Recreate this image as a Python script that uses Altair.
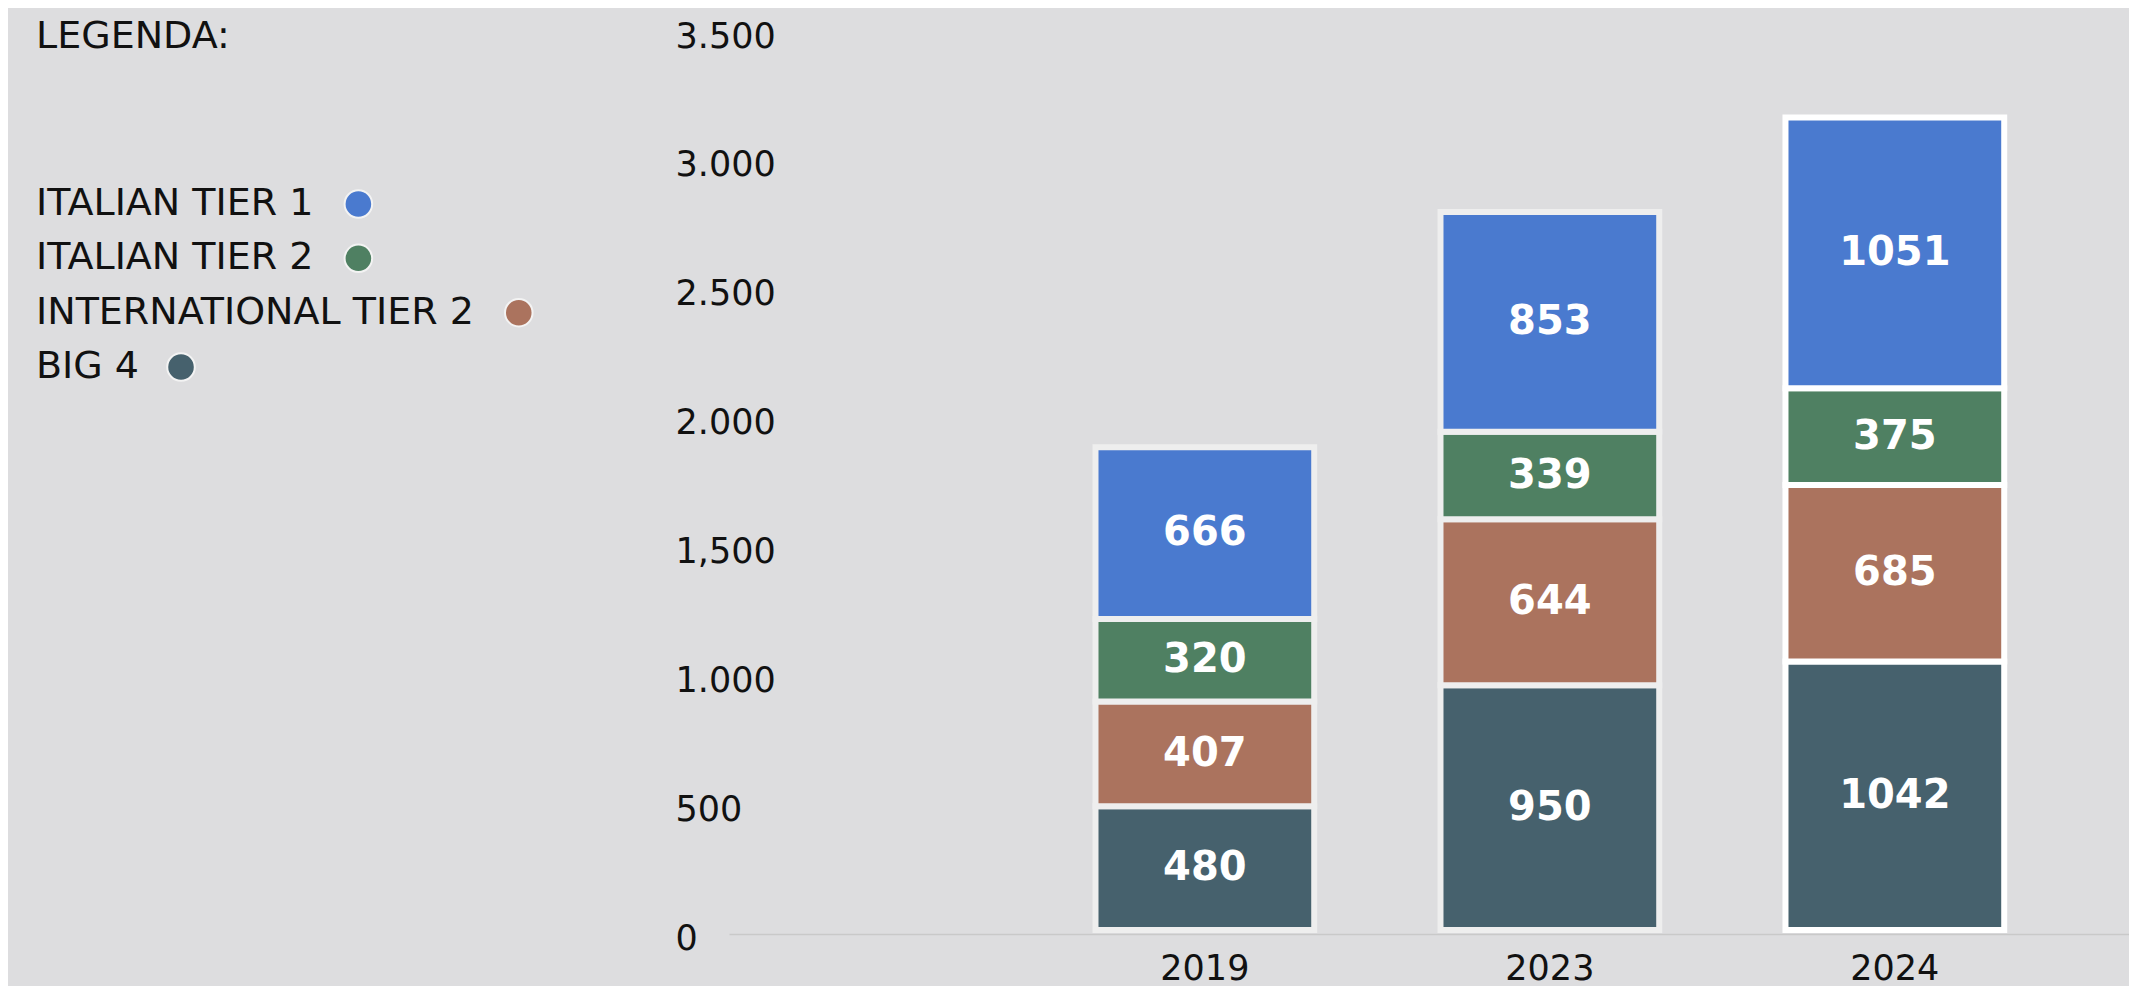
import altair as alt
import pandas as pd

# ---- data ----
years = ["2019", "2023", "2024"]
series = ["BIG 4", "INTERNATIONAL TIER 2", "ITALIAN TIER 2", "ITALIAN TIER 1"]  # bottom -> top
big4 = [480, 950, 1042]
international_tier2 = [407, 644, 685]
italian_tier2 = [320, 339, 375]
italian_tier1 = [666, 853, 1051]
legend_order = ["ITALIAN TIER 1", "ITALIAN TIER 2", "INTERNATIONAL TIER 2", "BIG 4"]
series_colors = ["#46616d", "#ab735e", "#4f8062", "#4a7acf"]
y_ticks = [0, 500, 1000, 1500, 2000, 2500, 3000, 3500]
legend_title = "LEGENDA:"

FONT = "DejaVu Sans"
BG = "#dddddf"
INK = "#111111"

values_by_series = [big4, international_tier2, italian_tier2, italian_tier1]
rows = []
for k, (name, vals) in enumerate(zip(series, values_by_series)):
    for yr, v in zip(years, vals):
        rows.append({"year": yr, "series": name, "value": v, "k": k})
df = pd.DataFrame(rows)

color_scale = alt.Scale(domain=series, range=series_colors)

# ---- bars panel ----
x_enc = alt.X(
    "year:N",
    sort=years,
    scale=alt.Scale(domain=years, paddingInner=0.366, paddingOuter=0.712, align=0.746),
    axis=alt.Axis(
        title=None, labelAngle=0, ticks=False, domain=True, domainColor="#c9c9c9",
        domainWidth=1.5, grid=False, labelPadding=17, labelFontSize=35, labelFont=FONT,
        labelColor=INK, labelFontWeight="normal",
    ),
)
y_scale = alt.Scale(domain=[0, 3500], range=[922, 20], nice=False, zero=True)
y_axis = alt.Axis(
    title=None, values=y_ticks, ticks=False, domain=False, grid=False,
    labelAlign="left", labelBaseline="middle", labelPadding=54, labelOffset=8,
    labelFontSize=35, labelFont=FONT, labelColor=INK,
    labelExpr="datum.value == 1500 ? '1,500' : replace(format(datum.value, ','), ',', '.')",
)

base = alt.Chart(df).transform_stack(
    stack="value", groupby=["year"], as_=["v0", "v1"], sort=[alt.SortField("k", order="ascending")]
).transform_calculate(mid="(datum.v0 + datum.v1) / 2")

bars = base.mark_bar(strokeWidth=6, opacity=1).encode(
    x=x_enc,
    y=alt.Y("v0:Q", scale=y_scale, axis=y_axis),
    y2="v1:Q",
    color=alt.Color("series:N", scale=color_scale, legend=None),
    stroke=alt.condition("datum.year == '2024'", alt.value("#ffffff"), alt.value("#eeeeee")),
    order=alt.Order("k:Q"),
)

bar_labels = base.mark_text(
    font=FONT, fontSize=40, fontWeight="bold", color="#ffffff", align="center", baseline="middle"
).encode(
    x=x_enc,
    y=alt.Y("mid:Q", scale=y_scale, axis=y_axis),
    text=alt.Text("value:Q", format="d"),
)

bars_panel = alt.layer(bars, bar_labels).properties(width=1400, height=926)

# ---- legend panel (label followed by a dot) ----
LEG_SIZE = 38
dejavu_adv = {" ": 651, "1": 1303, "2": 1303, "4": 1303, "A": 1401, "B": 1405, "E": 1294,
              "G": 1589, "I": 604, "L": 1141, "N": 1532, "O": 1612, "R": 1423, "T": 1251}
text_x = 28


def text_width(s):
    return sum(dejavu_adv.get(c, 1300) for c in s) / 2048 * LEG_SIZE


leg_df = pd.DataFrame({
    "series": legend_order,
    "cx": [text_x + text_width(s) + 42 for s in legend_order],
})
leg_y = alt.Y(
    "series:N", sort=legend_order,
    scale=alt.Scale(type="point", domain=legend_order, range=[196, 359], padding=0),
    axis=None,
)

title_layer = alt.Chart(pd.DataFrame({"t": [legend_title]})).mark_text(
    align="left", baseline="middle", font=FONT, fontSize=LEG_SIZE, color=INK
).encode(x=alt.value(text_x), y=alt.value(29), text="t:N")

item_text = alt.Chart(leg_df).mark_text(
    align="left", baseline="middle", font=FONT, fontSize=LEG_SIZE, color=INK
).encode(x=alt.value(text_x), y=leg_y, text="series:N")

item_dot = alt.Chart(leg_df).mark_circle(size=760, opacity=1, stroke="#f3f3f3", strokeWidth=2).encode(
    x=alt.X("cx:Q", scale=None, axis=None),
    y=leg_y,
    color=alt.Color("series:N", scale=color_scale, legend=None),
)

legend_panel = alt.layer(title_layer, item_text, item_dot).properties(width=721, height=926)

chart = alt.hconcat(legend_panel, bars_panel, spacing=0, bounds="flush").resolve_scale(
    x="independent", y="independent"
).properties(
    background=BG, padding={"left": 0, "top": 0, "right": 0, "bottom": 0}
).configure_view(strokeWidth=0)

chart.save("out.html", embed_options={"renderer": "svg", "actions": False})
